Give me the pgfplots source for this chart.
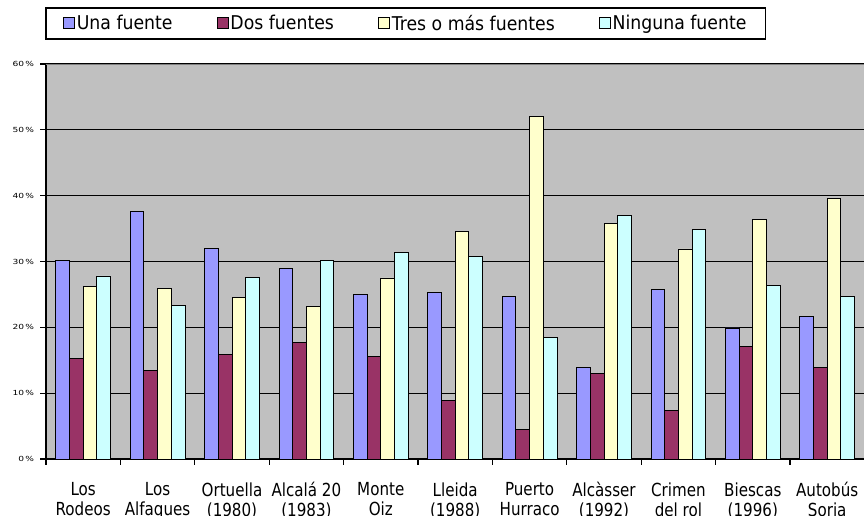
\documentclass[border=0pt]{standalone}
\usepackage{fontspec}
\setmainfont{DejaVu Sans}
\newfontfamily\legfont{DejaVu Sans}[FakeStretch=0.91]
\newfontfamily\xfont{DejaVu Sans}[FakeStretch=0.84]
\newfontfamily\yfont{DejaVu Sans}[FakeStretch=1.3]
\usepackage{pgfplots}
\pgfplotsset{compat=1.18}
\definecolor{cUna}{HTML}{9999FF}
\definecolor{cDos}{HTML}{993366}
\definecolor{cTres}{HTML}{FFFFCC}
\definecolor{cNin}{HTML}{CCFFFF}
\definecolor{cBg}{HTML}{C0C0C0}
\begin{document}
\begin{tikzpicture}
\useasboundingbox (0,0) rectangle (864pt,515pt);
\clip (0,0) rectangle (864pt,515pt);
\begin{axis}[
  at={(46pt,56pt)}, anchor=south west,
  scale only axis, width=818.4pt, height=395pt,
  xmin=-0.5, xmax=10.5, ymin=0, ymax=60,
  ybar=0pt, bar width=0.184,
  axis background/.style={fill=cBg},
  axis x line*=bottom, axis y line*=left,
  axis line style={black, line width=1.2pt, -},
  ymajorgrids, grid style={black, line width=1.1pt},
  ytick={0,10,...,60},
  yticklabels={0\,\%,10\,\%,20\,\%,30\,\%,40\,\%,50\,\%,60\,\%},
  yticklabel style={font=\yfont\fontsize{7}{8}\selectfont, xshift=-3pt},
  xtick={-0.5,0.5,...,10.5},
  x tick label as interval,
  xticklabels={Los\\Rodeos, Los\\Alfaques, Ortuella\\(1980), Alcalá 20\\(1983), Monte\\Oiz, Lleida\\(1988), Puerto\\Hurraco, Alcàsser\\(1992), Crimen\\del rol, Biescas\\(1996), Autobús\\Soria},
  xticklabel style={font=\xfont\fontsize{18}{20}\selectfont, align=center, anchor=north, inner sep=0pt, yshift=-17.7pt},
  tick style={black, line width=1.1pt},
  tick align=outside, major tick length=5.5pt,
  legend columns=4,
  legend style={at={(axis description cs:-0.0012,1.1443)}, anchor=north west,
    draw=black, line width=1.8pt, fill=white,
    font=\legfont\fontsize{19}{22}\selectfont,
    inner xsep=17pt, inner ysep=5pt,
    /tikz/every even column/.append style={column sep=42pt}},
  legend image code/.code={\draw[#1, line width=0.9pt] (0pt,-5.5pt) rectangle (11pt,5.5pt);},
]
\addplot[fill=cUna, draw=black, line width=0.9pt] coordinates {(0,30.2) (1,37.6) (2,32.0) (3,28.9) (4,25.0) (5,25.3) (6,24.7) (7,13.9) (8,25.8) (9,19.9) (10,21.6)};
\addplot[fill=cDos, draw=black, line width=0.9pt] coordinates {(0,15.3) (1,13.4) (2,15.9) (3,17.7) (4,15.6) (5,8.9) (6,4.5) (7,13.0) (8,7.4) (9,17.1) (10,13.9)};
\addplot[fill=cTres, draw=black, line width=0.9pt] coordinates {(0,26.2) (1,25.9) (2,24.5) (3,23.2) (4,27.5) (5,34.5) (6,52.1) (7,35.8) (8,31.9) (9,36.4) (10,39.6)};
\addplot[fill=cNin, draw=black, line width=0.9pt] coordinates {(0,27.8) (1,23.3) (2,27.6) (3,30.2) (4,31.4) (5,30.8) (6,18.5) (7,37.0) (8,34.9) (9,26.4) (10,24.7)};
\legend{Una fuente, Dos fuentes, Tres o más fuentes, Ninguna fuente}
\draw[gray, line width=1.1pt] (axis cs:-0.5,60) -- (axis cs:10.5,60);
\end{axis}
\end{tikzpicture}
\end{document}
